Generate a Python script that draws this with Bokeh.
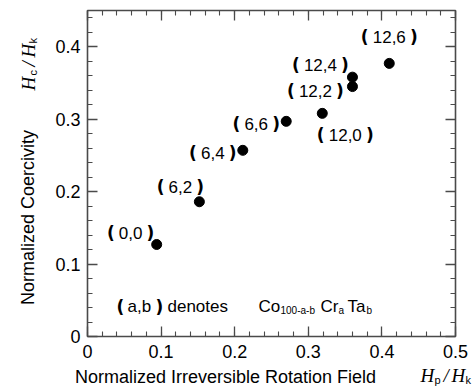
import math
from bokeh.plotting import figure
from bokeh.models import LinearAxis, FixedTicker, ColumnDataSource, Range1d
from bokeh.layouts import row, column
from bokeh.core.properties import value
from bokeh.embed import file_html
from bokeh.resources import INLINE

# ---- data ----
labels = ["0,0", "6,2", "6,4", "6,6", "12,0", "12,2", "12,4", "12,6"]
hp_hk = [0.094, 0.152, 0.211, 0.270, 0.319, 0.360, 0.360, 0.410]
hc_hk = [0.127, 0.186, 0.257, 0.297, 0.308, 0.345, 0.358, 0.377]
x_ticks = [0, 0.1, 0.2, 0.3, 0.4, 0.5]
x_tick_labels = ["0", "0.1", "0.2", "0.3", "0.4", "0.5"]
y_ticks = [0, 0.1, 0.2, 0.3, 0.4]
y_tick_labels = ["0", "0.1", "0.2", "0.3", "0.4"]

# label centre offsets (screen px) relative to points; negative dy = up
lab_dx = [-26, -19, -30, -30, 23, -37, -32, 0]
lab_dy = [-11, -15, 3, 3, 22, 4, -12, -26]

FONT = "Liberation Sans"
SERIF = "Liberation Serif"
PFONT = "DejaVu Sans"
LFS = 17  # label font size
XMAX, YMAX = 0.5, 0.45

# page geometry (px)
LEFTW = 40
MAIN_W, MAIN_H = 475 - LEFTW, 366
FL, FR, FT, FB = 87, 455, 10, 336

def X(px):
    return (px - FL) * XMAX / (FR - FL)

def Y(py):
    return (FB - py) * YMAX / (FB - FT)

p = figure(width=MAIN_W, height=MAIN_H, output_backend="svg", toolbar_location=None,
           x_range=Range1d(0, XMAX), y_range=Range1d(0, YMAX),
           min_border_left=FL - LEFTW, min_border_right=475 - FR,
           min_border_top=FT, min_border_bottom=MAIN_H - FB,
           x_axis_type=None, y_axis_type=None)
p.frame_align = False
p.grid.visible = False
p.outline_line_color = "#4a4a4a"
p.outline_line_width = 1.6

x_minor = [round(i * 0.02, 2) for i in range(0, 26)]
y_minor = [round(i * 0.02, 2) for i in range(0, 23)]

def style(ax, ticks, minor, labs, show):
    ax.ticker = FixedTicker(ticks=ticks, minor_ticks=minor)
    ax.axis_line_color = None
    ax.major_tick_in = 10
    ax.major_tick_out = 0
    ax.minor_tick_in = 5
    ax.minor_tick_out = 0
    ax.major_tick_line_color = "#4a4a4a"
    ax.minor_tick_line_color = "#4a4a4a"
    ax.major_tick_line_width = 1.3
    ax.minor_tick_line_width = 1.1
    if show:
        ax.major_label_overrides = {t: l for t, l in zip(ticks, labs)}
        ax.major_label_text_font = FONT
        ax.major_label_text_font_size = "18px"
        ax.major_label_text_color = "black"
    else:
        ax.major_label_overrides = {t: "" for t in ticks}
        ax.major_label_text_font_size = "7px"
        ax.major_label_standoff = 0

xb = LinearAxis(); style(xb, x_ticks, x_minor, x_tick_labels, True); xb.major_label_standoff = 8
yl = LinearAxis(); style(yl, y_ticks, y_minor, y_tick_labels, True); yl.major_label_standoff = 7
xa = LinearAxis(); style(xa, x_ticks, x_minor, x_tick_labels, False)
yr = LinearAxis(); style(yr, y_ticks, y_minor, y_tick_labels, False)
p.add_layout(xb, "below")
p.add_layout(yl, "left")
p.add_layout(xa, "above")
p.add_layout(yr, "right")

def text_w(s, fs):
    w = 0
    for ch in s:
        w += 0.278 if ch in ",." else 0.556
    return w * fs

lp_dx = [dx - text_w(s, LFS) / 2 - 8 for s, dx in zip(labels, lab_dx)]
rp_dx = [dx + text_w(s, LFS) / 2 + 8 for s, dx in zip(labels, lab_dx)]

src = ColumnDataSource(dict(x=hp_hk, y=hc_hk, t=labels, dx=lab_dx, dy=lab_dy,
                            ldx=lp_dx, rdx=rp_dx,
                            lp=["("] * len(labels), rp=[")"] * len(labels)))
p.scatter("x", "y", source=src, size=10, color="black")
p.text("x", "y", text="t", source=src, x_offset="dx", y_offset="dy",
       text_align="center", text_baseline="middle",
       text_font=value(FONT), text_font_size=f"{LFS}px", text_color="black")
for col, off in (("lp", "ldx"), ("rp", "rdx")):
    p.text("x", "y", text=col, source=src, x_offset=off, y_offset="dy",
           text_align="center", text_baseline="middle",
           text_font=value(PFONT), text_font_size="17px", text_font_style="bold",
           text_color="black")

def t(fig, x, y, s, size=f"{LFS}px", font=FONT, style="normal", angle=0, align="left"):
    fig.text([x], [y], text=[s], text_font=value(font), text_font_size=size,
             text_font_style=style, angle=angle, text_align=align,
             text_baseline="middle", text_color="black")

# in-plot note
t(p, X(120), Y(306), "(", font=PFONT, style="bold", align="center")
t(p, X(127), Y(306), "a,b")
t(p, X(159), Y(306), ")", font=PFONT, style="bold", align="center")
t(p, X(167), Y(306), "denotes")
t(p, X(258), Y(306), "Co")
t(p, X(280), Y(310), "100-a-b", size="10px")
t(p, X(320), Y(306), "Cr")
t(p, X(338), Y(310), "a", size="10px")
t(p, X(347), Y(306), "Ta")
t(p, X(366), Y(310), "b", size="10px")

# left strip: rotated y title
L = figure(width=LEFTW, height=392, output_backend="svg", toolbar_location=None,
           x_range=Range1d(0, LEFTW), y_range=Range1d(392, 0),
           min_border=0, x_axis_type=None, y_axis_type=None)
L.frame_align = False
L.grid.visible = False
L.outline_line_color = None
A = math.pi / 2
t(L, 27, 217, "Normalized Coercivity", size="18px", angle=A, align="center")
t(L, 28, 90, "H", size="19px", font=SERIF, style="italic", angle=A)
t(L, 32, 75, "c", size="11px", angle=A)
t(L, 28, 66, "/", size="19px", font=SERIF, style="italic", angle=A)
t(L, 28, 57, "H", size="19px", font=SERIF, style="italic", angle=A)
t(L, 32, 43, "k", size="11px", angle=A)

# bottom strip: x title
B = figure(width=MAIN_W, height=392 - MAIN_H, output_backend="svg", toolbar_location=None,
           x_range=Range1d(LEFTW, 475), y_range=Range1d(392, MAIN_H),
           min_border=0, x_axis_type=None, y_axis_type=None)
B.frame_align = False
B.grid.visible = False
B.outline_line_color = None
t(B, 225, 376, "Normalized Irreversible Rotation Field", size="18px", align="center")
t(B, 420, 375, "H", size="19px", font=SERIF, style="italic")
t(B, 434, 379, "p", size="11px")
t(B, 443, 375, "/", size="19px", font=SERIF, style="italic")
t(B, 451, 375, "H", size="19px", font=SERIF, style="italic")
t(B, 465, 379, "k", size="11px")

layout = row(L, column(p, B, spacing=0), spacing=0)
open("out.html", "w").write(file_html(layout, INLINE))
